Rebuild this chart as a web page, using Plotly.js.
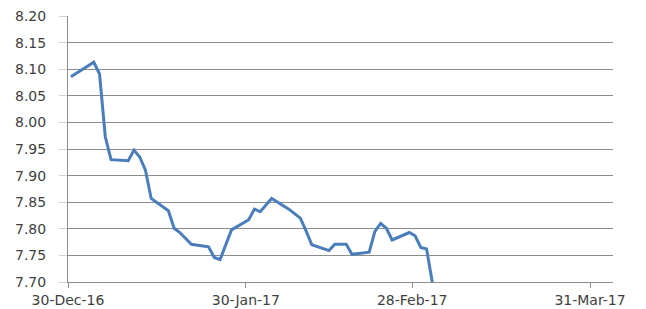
<!DOCTYPE html>
<html>
<head>
<meta charset="utf-8">
<script src="https://cdn.plot.ly/plotly-3.0.1.min.js"></script>
<style>html,body{margin:0;padding:0;background:#fff;}#chart{width:646px;height:309px;}</style>
</head>
<body>
<div id="chart"></div>
<script>
const dates = [
  '2016-12-30','2017-01-03','2017-01-04','2017-01-05','2017-01-06','2017-01-09','2017-01-10',
  '2017-01-11','2017-01-12','2017-01-13','2017-01-16','2017-01-17','2017-01-18','2017-01-19',
  '2017-01-20','2017-01-23','2017-01-24','2017-01-25','2017-01-26','2017-01-27','2017-01-30',
  '2017-01-31','2017-02-01','2017-02-02','2017-02-03','2017-02-06','2017-02-07','2017-02-08',
  '2017-02-09','2017-02-10','2017-02-13','2017-02-14','2017-02-15','2017-02-16','2017-02-17',
  '2017-02-20','2017-02-21','2017-02-22','2017-02-23','2017-02-24','2017-02-27','2017-02-28',
  '2017-03-01','2017-03-02','2017-03-03'
];
const values = [
  8.086, 8.113, 8.091, 7.973, 7.930, 7.928, 7.948,
  7.935, 7.910, 7.857, 7.834, 7.801, 7.793, 7.782,
  7.771, 7.766, 7.746, 7.742, 7.770, 7.798, 7.817,
  7.837, 7.832, 7.845, 7.857, 7.837, 7.829, 7.820,
  7.796, 7.770, 7.759, 7.771, 7.771, 7.771, 7.752,
  7.756, 7.795, 7.810, 7.801, 7.779, 7.793, 7.787,
  7.765, 7.762, 7.700
];
const tickDates = ['2016-12-30','2017-01-30','2017-02-28','2017-03-31'];
const tickLabels = ['30-Dec-16','30-Jan-17','28-Feb-17','31-Mar-17'];
const yTicks = [7.70,7.75,7.80,7.85,7.90,7.95,8.00,8.05,8.10,8.15,8.20];

const trace = {
  x: dates.map(d => d + ' 12:00'),
  y: values,
  type: 'scatter',
  mode: 'lines',
  line: {color: '#4a7ebb', width: 3},
  hoverinfo: 'skip'
};
const font = {family: 'DejaVu Sans, Verdana, sans-serif', size: 14, color: '#404040'};
const layout = {
  width: 646, height: 309,
  margin: {l: 68, r: 33, t: 16, b: 27},
  paper_bgcolor: '#ffffff', plot_bgcolor: '#ffffff',
  showlegend: false,
  font: font,
  xaxis: {
    type: 'date',
    range: ['2016-12-30', '2017-04-04'],
    tickvals: tickDates, ticktext: tickLabels,
    showgrid: false, zeroline: false,
    showline: true, linecolor: '#8c8c8c', linewidth: 1,
    ticks: 'outside', ticklen: 5, tickcolor: '#8c8c8c',
    tickfont: font
  },
  yaxis: {
    range: [7.70, 8.20],
    tickvals: yTicks, tickformat: '.2f',
    showgrid: true, gridcolor: '#8c8c8c', gridwidth: 1,
    zeroline: false,
    showline: true, linecolor: '#8c8c8c', linewidth: 1,
    ticks: 'outside', ticklen: 8, tickcolor: '#d0d0d0',
    ticklabelstandoff: 10,
    tickfont: font
  }
};
Plotly.newPlot('chart', [trace], layout, {staticPlot: true, displayModeBar: false});
</script>
</body>
</html>
